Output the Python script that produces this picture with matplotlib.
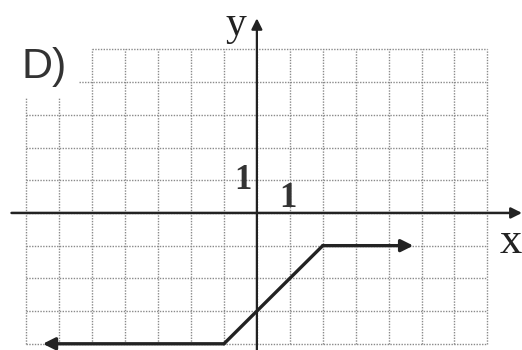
import matplotlib
matplotlib.use("Agg")
import matplotlib.pyplot as plt

# grid lines (unit squares), top-left corner cut out where the "D)" label sits
h_levels = [5, 4, 3, 2, 1, 0, -1, -2, -3, -4]
h_start = [-5, -5.4, -7, -7, -7, -7, -7, -7, -7, -7]
h_end = 7
v_levels = [-7, -6, -5, -4, -3, -2, -1, 0, 1, 2, 3, 4, 5, 6, 7]
v_top = [3.5, 3.5, 5, 5, 5, 5, 5, 5, 5, 5, 5, 5, 5, 5, 5]
v_bottom = -4

# piecewise function (arrow tips at both ends)
fx = [-6.5, -1, 2, 4.75]
fy = [-4, -4, -1, -1]

# axis extents
x_axis = [-7.45, 8.05]
y_axis = [-4.3, 5.95]


def main() -> None:
    fig = plt.figure(figsize=(5.22, 3.5), dpi=100)
    ax = fig.add_axes([0, 0, 1, 1])
    ax.set_xlim(-7.80, 8.05)
    ax.set_ylim(-4.19, 6.51)
    ax.axis("off")

    grid_kw = dict(color="#8a8a8a", linestyle=(0, (1, 1)), linewidth=1.0, zorder=1)
    for y, x0 in zip(h_levels, h_start):
        ax.plot([x0, h_end], [y, y], **grid_kw)
    for x, yt in zip(v_levels, v_top):
        ax.plot([x, x], [v_bottom, yt], **grid_kw)

    # axes with arrows
    ax.annotate("", xy=(x_axis[1], 0), xytext=(x_axis[0], 0),
                arrowprops=dict(arrowstyle="-|>", color="#222222", lw=1.8,
                                mutation_scale=16, shrinkA=0, shrinkB=0), zorder=3)
    ax.annotate("", xy=(0, y_axis[1]), xytext=(0, y_axis[0]),
                arrowprops=dict(arrowstyle="-|>", color="#222222", lw=1.6,
                                mutation_scale=16, shrinkA=0, shrinkB=0), zorder=3)

    # function graph
    ax.plot(fx[1:-1], fy[1:-1], color="#222222", lw=2.4, solid_capstyle="round", zorder=4)
    ax.annotate("", xy=(fx[0], fy[0]), xytext=(fx[1], fy[1]),
                arrowprops=dict(arrowstyle="-|>", color="#222222", lw=2.4,
                                mutation_scale=18, shrinkA=0, shrinkB=0), zorder=4)
    ax.annotate("", xy=(fx[-1], fy[-1]), xytext=(fx[-2], fy[-2]),
                arrowprops=dict(arrowstyle="-|>", color="#222222", lw=2.4,
                                mutation_scale=18, shrinkA=0, shrinkB=0), zorder=4)

    # labels
    ax.text(-6.47, 4.45, "D)", fontsize=31, family="Liberation Sans",
            color="#333333", ha="center", va="center")
    ax.text(-0.65, 5.75, "y", fontsize=30, family="Liberation Serif",
            color="#222222", ha="center", va="center")
    ax.text(7.7, -0.88, "x", fontsize=32, family="Liberation Serif",
            color="#222222", ha="center", va="center")
    ax.text(-0.43, 1.0, "1", fontsize=25, family="Liberation Serif",
            fontweight="bold", color="#333333", ha="center", va="center")
    ax.text(0.94, 0.45, "1", fontsize=25, family="Liberation Serif",
            fontweight="bold", color="#333333", ha="center", va="center")

    fig.savefig("out.png", dpi=100)
    plt.close(fig)


if __name__ == "__main__":
    main()
